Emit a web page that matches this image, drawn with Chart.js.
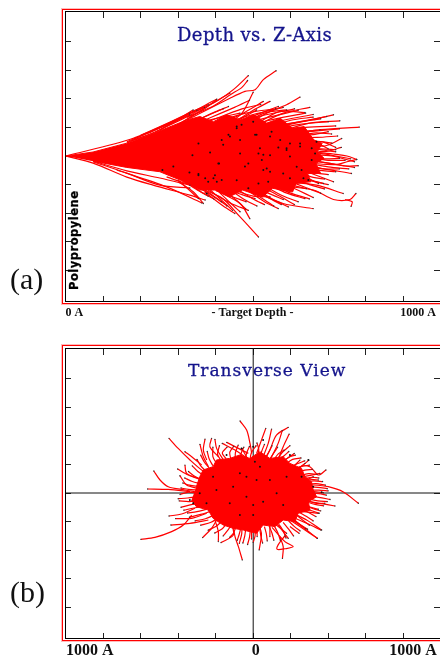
<!DOCTYPE html>
<html>
<head>
<meta charset="utf-8">
<script src="https://cdn.jsdelivr.net/npm/chart.js@4"></script>
<style>
  html, body { margin: 0; padding: 0; background: #fff; overflow: hidden; width: 440px; height: 656px; }
  canvas { position: absolute; left: 0; }
  .frame { position: absolute; left: 62px; width: 400px; border: 1px solid #f00; box-shadow: 0 0 0 1px rgba(255,60,60,.35); }
  .txt { position: absolute; white-space: nowrap; }
  .title { color: #14148c; font: 18px "DejaVu Serif", serif; letter-spacing: .4px; -webkit-text-stroke: .3px #14148c; }
  .tag { font: 30px "Liberation Serif", serif; color: #111; }
  #poly { font: bold 11.5px "DejaVu Sans", sans-serif; letter-spacing: .5px; -webkit-text-stroke: .3px #000; transform-origin: left top; transform: rotate(-90deg); left: 67px; top: 290px; }
</style>
</head>
<body>
<canvas id="depthChart" width="460" height="330" style="top:0"></canvas>
<canvas id="transChart" width="460" height="326" style="top:330px"></canvas>
<div class="frame" style="top:9px;height:293px"></div>
<div class="frame" style="top:345px;height:294px"></div>
<div class="txt title" style="left:177px;top:24px">Depth vs. Z-Axis</div>
<div class="txt title" style="left:188px;top:360px;font-size:17px;letter-spacing:1px">Transverse View</div>
<div class="txt" id="poly">Polypropylene</div>
<div class="txt tag" style="left:10px;top:262px">(a)</div>
<div class="txt tag" style="left:10px;top:575px">(b)</div>

<script>
// panel (a), x = target depth, y = z axis
const depthXTicks = [0, 100, 200, 300, 400, 500, 600, 700, 800, 900, 1000];
const depthYTicks = [-400, -300, -200, -100, 0, 100, 200, 300, 400];
const depthLabelAt = [23, 498, 940];
const depthLabels = ['0 A', '- Target Depth -', '1000 A'];

// outline of the part where the tracks merge into solid red
const depthCore = [[0,0],[73,14],[163,45],[251,88],[323,126],[358,138],[394,120],[429,144],[465,126],[500,144],[536,115],[572,132],[605,97],[636,103],[662,56],[684,44],[671,15],[689,-8],[667,-26],[680,-61],[645,-61],[654,-90],[614,-96],[605,-126],[552,-113],[525,-143],[472,-119],[436,-143],[401,-119],[358,-119],[305,-84],[251,-55],[163,-40],[73,-18]];

const depthTracks = [
  // upper edge
  [[0,0],[180,62],[323,144],[394,185],[447,232],[487,281]],
  [[323,135],[394,175],[440,215],[470,240],[485,264]],
  [[330,130],[438,202],[478,226],[505,232],[527,267],[561,298]],
  [[180,58],[300,128],[403,199]],
  [[163,50],[251,98],[331,144]],
  [[163,47],[251,92],[340,161]],
  [[251,90],[330,150],[380,179]],
  [[300,110],[370,165],[402,197]],
  [[300,110],[380,175],[438,220]],
  [[350,125],[400,155],[434,173]],
  [[380,125],[430,140],[465,150]],
  [[430,110],[470,150],[500,223]],
  [[420,115],[480,155],[527,191]],
  [[440,110],[500,160],[545,191]],
  [[450,110],[520,150],[567,173]],
  [[470,110],[530,150],[589,161]],
  [[440,110],[509,161]],
  [[480,105],[536,150],[589,179],[625,206]],
  [[500,100],[580,150],[651,170]],
  [[500,105],[570,155],[638,152]],
  [[520,95],[600,125],[660,136]],
  [[530,95],[625,120],[696,138]],
  [[540,95],[625,118],[714,144]],
  [[560,80],[650,115],[731,123]],
  [[580,75],[680,92],[783,101]],
  [[590,60],[640,85],[678,91]],
  [[600,60],[660,80],[709,77]],
  [[620,45],[690,35],[736,61]],
  [[630,35],[680,50],[720,30]],
  [[200,72],[280,120],[330,150]],
  [[220,80],[300,130],[350,160]],
  [[240,85],[320,135],[370,170]],
  [[340,120],[420,165]],
  [[360,120],[450,170],[490,195]],
  [[380,120],[470,165],[520,180]],
  [[400,118],[480,150],[560,165]],
  [[420,115],[500,145],[580,170]],
  [[440,112],[520,140],[610,165]],
  [[460,110],[540,135],[620,160]],
  [[480,105],[560,130],[640,150]],
  [[500,100],[580,125],[660,145]],
  [[520,95],[600,115],[680,130]],
  [[540,90],[620,110],[700,120]],
  [[560,85],[640,100],[720,105]],
  [[580,75],[650,85],[730,95]],
  [[590,70],[660,75],[700,85]],
  [[600,65],[670,65],[725,70]],
  [[610,55],[680,50],[710,45]],
  [[620,45],[680,38],[700,25]],
  [[630,35],[690,20],[720,15]],
  [[640,25],[690,15],[735,30]],
  // right side
  [[650,15],[714,7],[750,0],[776,-12]],
  [[650,-15],[705,-26],[745,-35],[780,-34]],
  [[650,-25],[720,-30],[750,-20],[776,-12]],
  [[640,-40],[678,-43],[762,-61]],
  [[620,-45],[643,-55],[714,-90]],
  [[640,-5],[690,-10],[730,-8]],
  [[640,20],[680,25],[720,22]],
  [[620,-60],[674,-96]],
  [[610,-70],[687,-96]],
  [[650,15],[700,5],[760,-10]],
  [[650,5],[710,0],[770,-20]],
  [[650,-5],[700,-15],[745,-15]],
  [[650,-15],[700,-25],[770,-40]],
  [[640,-25],[700,-38],[755,-45]],
  [[640,-30],[690,-45],[730,-45]],
  [[630,-40],[680,-50],[720,-55]],
  [[630,-45],[670,-60],[700,-65]],
  [[620,-55],[660,-75],[690,-80]],
  [[610,-65],[650,-85],[700,-100]],
  // lower right
  [[540,-100],[660,-119],[714,-152],[758,-152],[774,-131]],
  [[745,-152],[764,-160],[761,-176]],
  [[590,-90],[669,-102],[740,-131]],
  [[456,-100],[492,-119],[580,-166],[660,-184]],
  [[540,-100],[590,-130],[638,-149]],
  [[530,-105],[580,-140],[620,-160]],
  [[500,-110],[550,-150],[594,-178]],
  [[480,-115],[530,-160],[567,-184]],
  [[500,-110],[540,-130],[580,-152]],
  [[450,-120],[500,-140],[545,-143]],
  [[430,-115],[470,-135],[505,-149]],
  [[580,-95],[642,-114]],
  [[400,-120],[450,-145],[481,-160]],
  [[600,-75],[650,-100],[690,-115]],
  [[590,-85],[640,-110],[680,-130]],
  [[570,-90],[620,-120],[660,-145]],
  [[550,-100],[600,-130],[650,-150]],
  [[520,-105],[570,-140],[610,-170]],
  [[500,-110],[540,-145],[575,-170]],
  [[480,-115],[520,-145],[555,-175]],
  [[460,-118],[500,-150],[530,-170]],
  [[440,-120],[480,-155],[510,-175]],
  [[420,-118],[460,-160],[480,-185]],
  [[400,-115],[440,-165],[465,-195]],
  [[380,-112],[420,-160],[445,-190]],
  [[360,-108],[400,-145],[430,-175]],
  [[340,-100],[380,-130],[415,-160]],
  [[320,-85],[360,-125],[395,-150]],
  [[300,-75],[340,-110],[380,-140]],
  // lower edge
  [[269,-73],[412,-143],[465,-213],[514,-283]],
  [[400,-120],[465,-166],[491,-219]],
  [[380,-120],[440,-165],[487,-190]],
  [[370,-125],[420,-175],[451,-201]],
  [[136,-49],[269,-108],[363,-164]],
  [[300,-90],[340,-125],[367,-166]],
  [[300,-85],[330,-120],[354,-149]],
  [[0,0],[73,-25],[163,-74],[233,-102],[331,-137],[372,-154]],
  [[73,-20],[163,-60],[251,-102],[331,-112]],
  [[73,-18],[163,-52],[251,-77],[331,-102]]
];

const depthEnds = [[258,-49],[287,-37],[338,3],[354,44],[330,-58],[354,-63],[372,-78],[394,-78],[403,-90],[409,-26],[385,12],[416,56],[434,74],[456,103],[469,109],[500,120],[509,74],[549,85],[438,68],[465,56],[465,9],[478,-37],[487,-26],[527,4],[523,-14],[536,-44],[545,-55],[589,21],[598,-2],[572,56],[625,44],[629,-49],[656,-14],[665,9],[598,-78],[540,-90],[487,-113],[456,-85],[416,-84],[376,-131],[456,97],[505,74],[545,68],[598,44],[625,33],[656,27],[669,50],[420,39],[518,27],[567,30],[589,27],[398,-67],[354,-67],[380,-90],[514,-96],[527,-49],[580,-61],[634,-78],[647,-84],[616,-38],[407,-26],[514,9],[545,3]];

// panel (b), x and y both transverse
const transXTicks = [-1000, -800, -600, -400, -200, 0, 200, 400, 600, 800, 1000];
const transYTicks = [-800, -600, -400, -200, 0, 200, 400, 600, 800];
const transLabelAt = [-871, 14, 852];
const transLabels = ['1000 A', '0', '1000 A'];
const crossH = [[-1000,0],[1000,0]];
const crossV = [[0,-1020],[0,1020]];

const transCore = [[-303,44],[-285,114],[-267,161],[-214,184],[-196,231],[-125,242],[-71,266],[-18,242],[36,289],[89,242],[160,254],[196,207],[258,172],[276,114],[311,79],[320,21],[338,-26],[294,-61],[303,-119],[240,-142],[222,-200],[160,-189],[116,-235],[53,-224],[18,-282],[-53,-259],[-107,-247],[-160,-224],[-214,-177],[-240,-119],[-303,-96],[-329,-49]];

const transTracks = [
  // upper left
  [[-220,120],[-275,161],[-337,231],[-400,312],[-449,382]],
  [[-311,9],[-364,21],[-453,44],[-497,91],[-530,154]],
  [[-337,9],[-453,25],[-563,28]],
  [[-8,277],[-17,347],[-35,440],[-70,503]],
  [[-248,231],[-266,300],[-257,377]],
  [[-186,254],[-231,324],[-222,382]],
  [[-159,231],[-195,312],[-204,375]],
  [[-239,184],[-266,254],[-284,340]],
  [[-44,254],[-97,300],[-165,347]],
  [[-26,277],[-79,312],[-141,354]],
  [[-275,91],[-346,126],[-403,168]],
  [[-293,102],[-355,137],[-364,195]],
  [[-293,32],[-355,56],[-391,121]],
  [[-275,196],[-328,254],[-364,289]],
  [[-30,240],[-61,312]],
  // upper right
  [[18,277],[44,370],[67,452]],
  [[53,254],[80,347],[98,447]],
  [[53,207],[89,300],[124,405],[187,459]],
  [[89,230],[133,347],[155,436]],
  [[124,207],[160,324],[192,412]],
  [[107,184],[151,277],[196,331]],
  [[142,207],[219,277]],
  [[160,91],[213,137],[297,230]],
  [[178,137],[249,230]],
  [[196,126],[276,207]],
  [[196,126],[249,184],[302,184],[347,126],[388,161]],
  [[267,114],[356,137]],
  [[249,102],[347,91]],
  [[249,21],[374,2]],
  [[240,60],[320,114]],
  [[249,56],[320,56],[400,44],[481,7],[561,-72]],
  // lower right
  [[249,-49],[356,-72],[436,-91]],
  [[249,-96],[352,-142]],
  [[214,-142],[285,-189],[365,-259]],
  [[178,-165],[249,-224],[342,-317]],
  [[267,-130],[347,-142]],
  [[250,-80],[347,-114]],
  [[250,-40],[338,-72],[382,-72]],
  // lower left
  [[-328,-154],[-373,-224],[-435,-270],[-524,-310],[-599,-324]],
  [[-311,-107],[-382,-147],[-449,-161]],
  [[-248,-142],[-328,-177],[-414,-179]],
  [[-239,-189],[-337,-212],[-439,-224]],
  [[-195,-189],[-222,-247],[-270,-312]],
  [[-106,-235],[-97,-305],[-79,-375],[-58,-468]],
  [[-204,-189],[-186,-270],[-186,-340]],
  [[-115,-212],[-106,-294],[-172,-347]],
  [[-61,-200],[-61,-282],[-74,-352]],
  // lower
  [[26,-212],[44,-282],[32,-398]],
  [[-9,-220],[-9,-322]],
  [[21,-220],[21,-305]],
  [[142,-305],[160,-375],[156,-457]],
  [[100,-240],[169,-340],[213,-375],[169,-390],[128,-394],[133,-363],[169,-300]],
  [[133,-224],[187,-317]],
  [[213,-189],[290,-254]],
  [[204,-165],[285,-212],[361,-259]],
  [[196,-189],[249,-235],[342,-317]],
  [[196,-235],[245,-282]],
  [[89,-212],[89,-305]],
  [[120,-220],[178,-282]],
  // dense fringe all round the blob, clockwise from the top
  [[-20,210],[-10,280],[15,330]],
  [[10,230],[30,300],[20,350]],
  [[35,230],[45,290],[60,340]],
  [[60,235],[85,290],[100,330]],
  [[85,230],[110,280],[130,320]],
  [[105,225],[135,275],[165,300]],
  [[125,215],[165,260],[190,290]],
  [[145,205],[190,250],[225,265]],
  [[165,195],[210,235],[255,245]],
  [[185,175],[235,205],[275,225]],
  [[205,155],[255,185],[300,195]],
  [[225,135],[275,160],[315,165]],
  [[240,115],[295,135],[340,130]],
  [[255,95],[310,110],[350,105]],
  [[270,80],[325,85],[370,80]],
  [[280,60],[335,65],[385,55]],
  [[290,40],[345,40],[395,30]],
  [[295,20],[350,20],[400,15]],
  [[298,0],[350,-5],[390,-15]],
  [[295,-20],[350,-30],[410,-45]],
  [[290,-40],[345,-55],[395,-60]],
  [[280,-60],[330,-80],[375,-90]],
  [[270,-85],[320,-110],[360,-125]],
  [[255,-110],[300,-140],[335,-165]],
  [[240,-130],[285,-165],[320,-195]],
  [[225,-150],[265,-190],[300,-225]],
  [[205,-170],[245,-215],[280,-250]],
  [[185,-190],[220,-235],[250,-265]],
  [[160,-205],[190,-255],[215,-300]],
  [[135,-215],[160,-265],[175,-315]],
  [[110,-225],[130,-275],[145,-330]],
  [[85,-230],[100,-280],[110,-330]],
  [[60,-235],[70,-285],[75,-335]],
  [[35,-245],[40,-295],[50,-350]],
  [[10,-250],[10,-300],[0,-345]],
  [[-15,-255],[-20,-310],[-30,-360]],
  [[-40,-250],[-45,-300],[-55,-350]],
  [[-65,-240],[-75,-290],[-85,-330]],
  [[-90,-230],[-105,-280],[-125,-310]],
  [[-115,-220],[-135,-260],[-160,-300]],
  [[-140,-210],[-165,-250],[-205,-280]],
  [[-165,-195],[-195,-230],[-240,-260]],
  [[-190,-175],[-225,-205],[-280,-225]],
  [[-210,-155],[-255,-180],[-310,-195]],
  [[-230,-130],[-280,-150],[-340,-170]],
  [[-250,-115],[-300,-130],[-350,-140]],
  [[-265,-95],[-315,-105],[-370,-120]],
  [[-280,-75],[-325,-80],[-385,-100]],
  [[-295,-50],[-340,-60],[-395,-55]],
  [[-300,-25],[-350,-35],[-400,-40]],
  [[-300,0],[-350,5],[-390,-10]],
  [[-295,20],[-345,25],[-385,35]],
  [[-290,45],[-340,55],[-375,70]],
  [[-280,65],[-325,80],[-365,105]],
  [[-270,90],[-310,115],[-345,150]],
  [[-260,120],[-295,150],[-325,190]],
  [[-250,150],[-280,190],[-300,235]],
  [[-235,175],[-260,215],[-280,265]],
  [[-215,190],[-235,240],[-245,290]],
  [[-195,205],[-215,255],[-215,320]],
  [[-170,225],[-190,270],[-180,330]],
  [[-145,240],[-165,280],[-140,320]],
  [[-120,240],[-125,285],[-105,325]],
  [[-95,235],[-95,280],[-80,335]],
  [[-70,225],[-65,275],[-50,320]],
  [[-45,220],[-35,280],[-20,325]]
];

const transEnds = [[-214,114],[-142,266],[-62,312],[0,324],[53,371],[9,219],[36,184],[-71,138],[-36,114],[-107,44],[-196,21],[-285,-2],[-320,-72],[-338,-49],[-249,-72],[-125,-72],[0,-84],[53,-61],[160,-84],[125,-2],[89,91],[178,114],[258,114],[320,44],[365,5],[294,230],[196,266],[0,-154],[-71,-154],[18,91],[-36,-26]];

function marks(values) {
    return scale => { scale.ticks = values.map(v => ({ value: v })); };
}

// inward tick marks and black border, no labels
function markAxis(axis, position, min, max, values, length) {
    return {
        axis: axis, position: position, min: min, max: max,
        afterBuildTicks: marks(values),
        ticks: { display: false },
        grid: { drawOnChartArea: false, color: '#222', tickLength: length, tickWidth: 1 },
        border: { color: '#000', width: 1 }
    };
}

function drawPanel(id, p) {
    // a small dark dot sits on the end of every track
    const tips = p.tracks.map(t => t[t.length - 1]);
    const datasets = [];
    datasets.push({ data: p.ends, showLine: false, pointRadius: 1, pointBackgroundColor: '#111', pointBorderWidth: 0 });
    datasets.push({ data: tips, showLine: false, pointRadius: 0.7, pointBackgroundColor: '#333', pointBorderWidth: 0 });
    p.tracks.forEach(t => {
        datasets.push({ data: t, showLine: true, pointRadius: 0, borderColor: '#f00', borderWidth: 1.2, tension: 0.3 });
    });
    datasets.push({ data: p.core, showLine: true, pointRadius: 0, borderColor: '#f00', borderWidth: 1, backgroundColor: '#f00', fill: 'shape' });
    (p.cross || []).forEach(c => {
        datasets.push({ data: c, showLine: true, pointRadius: 0, borderColor: '#111', borderWidth: 1 });
    });

    new Chart(document.getElementById(id), {
        type: 'scatter',
        data: { datasets: datasets },
        options: {
            responsive: false,
            animation: false,
            events: [],
            layout: { padding: p.padding },
            plugins: { legend: { display: false }, title: { display: false }, tooltip: { enabled: false } },
            scales: {
                x: {
                    position: 'bottom', min: p.x[0], max: p.x[1],
                    afterBuildTicks: marks(p.labelAt),
                    afterFit: s => { s.height = p.axisHeight; },
                    grid: { display: false, drawTicks: false },
                    border: { display: false },
                    ticks: {
                        autoSkip: false, maxRotation: 0, padding: p.labelPad, color: '#111',
                        font: { family: 'Liberation Serif', weight: 'bold', size: p.labelSize },
                        callback: v => p.labels[p.labelAt.indexOf(v)]
                    }
                },
                y: markAxis('y', { x: p.x[0] }, p.y[0], p.y[1], p.yTicks, -6),
                yRight: markAxis('y', { x: p.x[1] }, p.y[0], p.y[1], p.yTicks, 6),
                xBottom: markAxis('x', { y: p.y[0] }, p.x[0], p.x[1], p.xTicks, -6),
                xTop: markAxis('x', { y: p.y[1] }, p.x[0], p.x[1], p.xTicks, 6)
            }
        }
    });
}

drawPanel('depthChart', {
    x: [0, 1000], y: [-507, 507],
    xTicks: depthXTicks, yTicks: depthYTicks,
    labelAt: depthLabelAt, labels: depthLabels, labelSize: 12, labelPad: 5,
    axisHeight: 28, padding: { left: 65.7, right: 19.3, top: 11, bottom: 1 },
    tracks: depthTracks, core: depthCore, ends: depthEnds
});

drawPanel('transChart', {
    x: [-1000, 1000], y: [-1014, 1014],
    xTicks: transXTicks, yTicks: transYTicks,
    labelAt: transLabelAt, labels: transLabels, labelSize: 16, labelPad: 3,
    axisHeight: 18, padding: { left: 65.7, right: 19.3, top: 18, bottom: 0 },
    tracks: transTracks, core: transCore, ends: transEnds, cross: [crossH, crossV]
});
</script>
</body>
</html>
